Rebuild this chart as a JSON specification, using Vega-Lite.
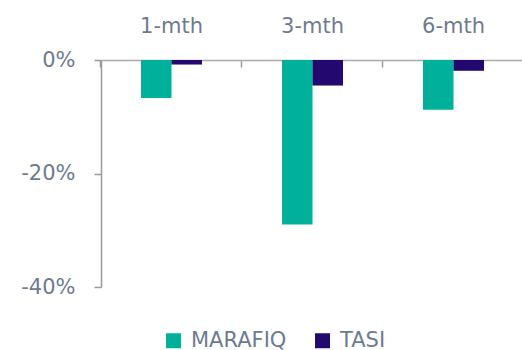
{
  "$schema": "https://vega.github.io/schema/vega-lite/v6.json",
  "width": 423,
  "height": 227,
  "autosize": "none",
  "padding": {"left": 101, "top": 60, "right": 0, "bottom": 63},
  "background": "white",
  "data": {"values": [
    {"period": "1-mth", "series": "MARAFIQ", "value": -0.067},
    {"period": "1-mth", "series": "TASI", "value": -0.008},
    {"period": "3-mth", "series": "MARAFIQ", "value": -0.290},
    {"period": "3-mth", "series": "TASI", "value": -0.045},
    {"period": "6-mth", "series": "MARAFIQ", "value": -0.0875},
    {"period": "6-mth", "series": "TASI", "value": -0.019}
  ]},
  "mark": {"type": "bar"},
  "encoding": {
    "x": {
      "field": "period", "type": "nominal", "sort": null,
      "scale": {"paddingInner": 0.567, "paddingOuter": 0.2835},
      "axis": {"orient": "top", "title": null, "labelAngle": 0, "bandPosition": -0.6557,
               "tickSize": -7, "tickColor": "#999999", "tickWidth": 1.5,
               "domainColor": "#aaaaaa", "domainWidth": 1.5,
               "labelPadding": 31, "labelFontSize": 21, "labelColor": "#6e7a91",
               "labelFont": "DejaVu Sans"}
    },
    "xOffset": {"field": "series", "type": "nominal", "scale": {"paddingInner": 0, "paddingOuter": 0}},
    "y": {
      "field": "value", "type": "quantitative",
      "scale": {"domain": [-0.4, 0], "nice": false},
      "axis": {"title": null, "values": [0, -0.2, -0.4], "grid": false,
               "labelExpr": "replace(format(datum.value, '.0%'), '\u2212', '-')",
               "tickSize": 7, "tickColor": "#999999", "tickWidth": 1.5,
               "domainColor": "#999999", "domainWidth": 1.5,
               "labelPadding": 19, "labelFontSize": 21, "labelColor": "#6e7a91", "labelFont": "DejaVu Sans"}
    },
    "color": {
      "field": "series", "type": "nominal",
      "scale": {"domain": ["MARAFIQ", "TASI"], "range": ["#00b09b", "#230870"]},
      "legend": {"title": null, "orient": "none", "direction": "horizontal",
                 "legendX": 62, "legendY": 270, "symbolType": "square", "symbolSize": 225,
                 "symbolStrokeWidth": 0, "labelFontSize": 21, "labelColor": "#6e7a91", "labelFont": "DejaVu Sans",
                 "columnPadding": 25, "labelOffset": 7}
    }
  },
  "config": {"view": {"stroke": null}}
}
